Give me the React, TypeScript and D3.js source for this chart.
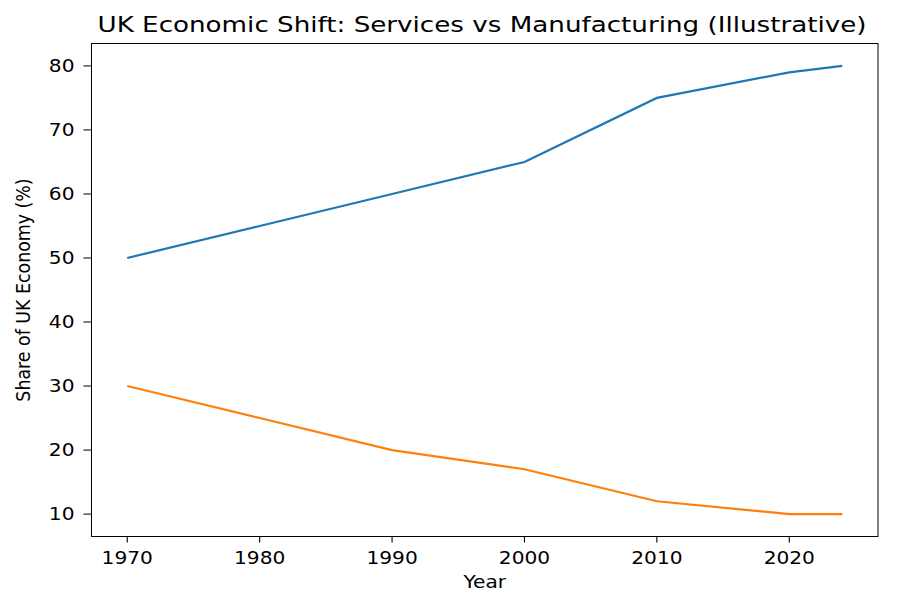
import * as d3 from "d3";

const years = [1970, 1980, 1990, 2000, 2010, 2020, 2024];
const services = [50, 55, 60, 65, 75, 79, 80];
const manufacturing = [30, 25, 20, 17, 12, 10, 10];
const xTicks = [1970, 1980, 1990, 2000, 2010, 2020];
const yTicks = [10, 20, 30, 40, 50, 60, 70, 80];

const title = "UK Economic Shift: Services vs Manufacturing (Illustrative)";
const font = "DejaVu Sans, sans-serif";
// the reference is stretched sideways a little, so text is too
const sx = 1.16;

export default function App() {
  const width = 900;
  const height = 600;
  const left = 91.5;
  const right = 878;
  const top = 43.5;
  const bottom = 536.5;

  const x = d3.scaleLinear().domain([1967.3, 2026.7]).range([left, right]);
  const y = d3.scaleLinear().domain([6.5, 83.5]).range([bottom, top]);

  const line = d3
    .line<number>()
    .x((_, i) => x(years[i]))
    .y((d) => y(d));

  return (
    <svg
      width={width}
      height={height}
      style={{ position: "absolute", left: 0, top: 0, background: "#fff" }}
      fontFamily={font}
    >
      <rect width={width} height={height} fill="#fff" />

      <path d={line(services) ?? ""} fill="none" stroke="#1f77b4" strokeWidth={2.2} />
      <path d={line(manufacturing) ?? ""} fill="none" stroke="#ff7f0e" strokeWidth={2.2} />

      <rect
        x={left}
        y={top}
        width={right - left}
        height={bottom - top}
        fill="none"
        stroke="#000"
        strokeWidth={1}
      />

      {xTicks.map((t) => (
        <g key={t} transform={`translate(${x(t)},${bottom})`}>
          <line y2={6} stroke="#000" strokeWidth={1.1} />
          <text
            y={27.5}
            transform={`scale(${sx},1)`}
            textAnchor="middle"
            fontSize={17.4}
            fill="#000"
          >
            {t}
          </text>
        </g>
      ))}

      {yTicks.map((t) => (
        <g key={t} transform={`translate(${left},${y(t)})`}>
          <line x2={-8} stroke="#000" strokeWidth={1} />
          <text
            transform={`translate(-17,0) scale(${sx},1)`}
            dy="0.36em"
            textAnchor="end"
            fontSize={17.4}
            fill="#000"
          >
            {t}
          </text>
        </g>
      ))}

      <text
        transform={`translate(${(left + right) / 2},588) scale(${sx},1)`}
        textAnchor="middle"
        fontSize={17.4}
        fill="#000"
      >
        Year
      </text>

      <text
        transform={`translate(30,${(top + bottom) / 2}) scale(${sx},1) rotate(-90)`}
        textAnchor="middle"
        fontSize={17.4}
        fill="#000"
      >
        Share of UK Economy (%)
      </text>

      <text
        x={482}
        y={32}
        textAnchor="middle"
        fontSize={21}
        textLength={769}
        lengthAdjust="spacingAndGlyphs"
        fill="#000"
      >
        {title}
      </text>
    </svg>
  );
}
